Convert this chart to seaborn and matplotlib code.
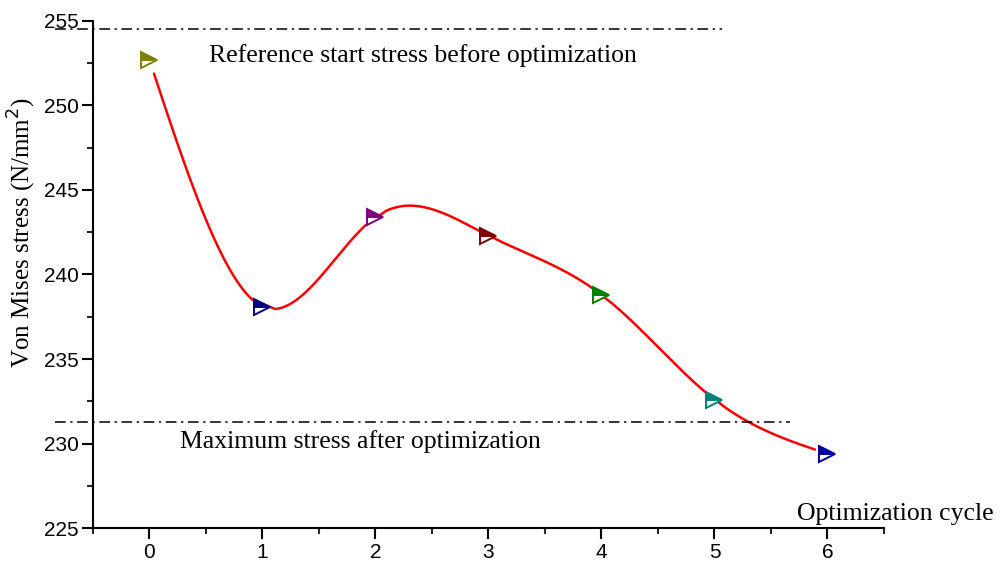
import numpy as np
import seaborn as sns
import matplotlib
matplotlib.use('Agg')
import matplotlib.pyplot as plt
from matplotlib.ticker import MultipleLocator

# Data
cycles = [0, 1, 2, 3, 4, 5, 6]
stress = [252.7, 238.1, 243.4, 242.3, 238.8, 232.6, 229.4]
marker_colors = ['#808000', '#000080', '#800080', '#800000', '#008000', '#008080', '#0000a0']
ref_start = 254.55
ref_max = 231.27


def natural_spline(x, y, n=600):
    # natural cubic spline through the points (smooth connecting line)
    x = np.asarray(x, float)
    y = np.asarray(y, float)
    k = len(x)
    h = np.diff(x)
    A = np.zeros((k, k))
    b = np.zeros(k)
    A[0, 0] = A[-1, -1] = 1
    for i in range(1, k - 1):
        A[i, i - 1] = h[i - 1]
        A[i, i] = 2 * (h[i - 1] + h[i])
        A[i, i + 1] = h[i]
        b[i] = 6 * ((y[i + 1] - y[i]) / h[i] - (y[i] - y[i - 1]) / h[i - 1])
    M = np.linalg.solve(A, b)
    xs = np.linspace(x[0], x[-1], n)
    idx = np.clip(np.searchsorted(x, xs) - 1, 0, k - 2)
    x0, x1 = x[idx], x[idx + 1]
    hh = x1 - x0
    ys = (M[idx] * (x1 - xs) ** 3 / (6 * hh) + M[idx + 1] * (xs - x0) ** 3 / (6 * hh)
          + (y[idx] / hh - M[idx] * hh / 6) * (x1 - xs)
          + (y[idx + 1] / hh - M[idx + 1] * hh / 6) * (xs - x0))
    return xs, ys


sns.set_theme(style='ticks')
plt.rcParams['font.family'] = ['Liberation Sans', 'DejaVu Sans']

fig = plt.figure(figsize=(10.01, 5.61), dpi=100)
ax = fig.add_axes([0.0929, 0.0588, 0.7902, 0.9038])
ax.set_xlim(-0.5, 6.5)
ax.set_ylim(225, 255)

# smooth curve with gaps around the symbols
xs, ys = natural_spline(cycles, stress)
px = ax.transData.transform(np.column_stack([xs, ys]))
pm = ax.transData.transform(np.column_stack([cycles, stress]))
d = np.min(np.hypot(px[:, None, 0] - pm[None, :, 0], px[:, None, 1] - pm[None, :, 1]), axis=1)
ys_gap = np.where(d < 12, np.nan, ys)
sns.lineplot(x=xs, y=ys_gap, ax=ax, color='red', lw=1.8, sort=False, estimator=None)

for cx, cy, c in zip(cycles, stress, marker_colors):
    ax.plot(cx, cy, marker='>', ms=11, color=c, mec=c, mew=1.4,
            fillstyle='top', markerfacecoloralt='white', ls='none', zorder=5)

# reference lines
dash = (0, (7, 3, 1.5, 3))
ax.plot([-0.84, 5.07], [ref_start, ref_start], color='black', lw=1.1, ls=dash, clip_on=False)
ax.plot([-0.84, 5.67], [ref_max, ref_max], color='black', lw=1.1, ls=dash, clip_on=False)
ax.set_xlim(-0.5, 6.5)
ax.set_ylim(225, 255)

serif = ['Liberation Serif', 'DejaVu Serif']
ax.text(0.53, 252.93, 'Reference start stress before optimization', family=serif,
        fontsize=18.5, va='center', ha='left', color='black')
ax.text(0.27, 230.1, 'Maximum stress after optimization', family=serif,
        fontsize=18.5, va='center', ha='left', color='black')
ax.text(7.47, 225.8, 'Optimization cycle', family=serif, fontsize=18.5,
        va='center', ha='right', clip_on=False, color='black')
ax.set_ylabel('Von Mises stress (N/mm$^2$)', family=serif, fontsize=18, color='black')
ax.yaxis.set_label_coords(-0.070, 0.582)

ax.set_xticks(cycles)
ax.xaxis.set_minor_locator(MultipleLocator(0.5))
ax.yaxis.set_major_locator(MultipleLocator(5))
ax.yaxis.set_minor_locator(MultipleLocator(2.5))
ax.tick_params(axis='both', which='major', length=8, width=1.5, labelsize=15,
               colors='black', direction='out')
ax.tick_params(axis='both', which='minor', length=4, width=1.5, direction='out')
ax.tick_params(axis='x', pad=3)
ax.tick_params(axis='y', pad=2)

sns.despine(ax=ax)
for s in ['left', 'bottom']:
    ax.spines[s].set_linewidth(1.5)
    ax.spines[s].set_color('black')

fig.savefig('out.png', dpi=100)
